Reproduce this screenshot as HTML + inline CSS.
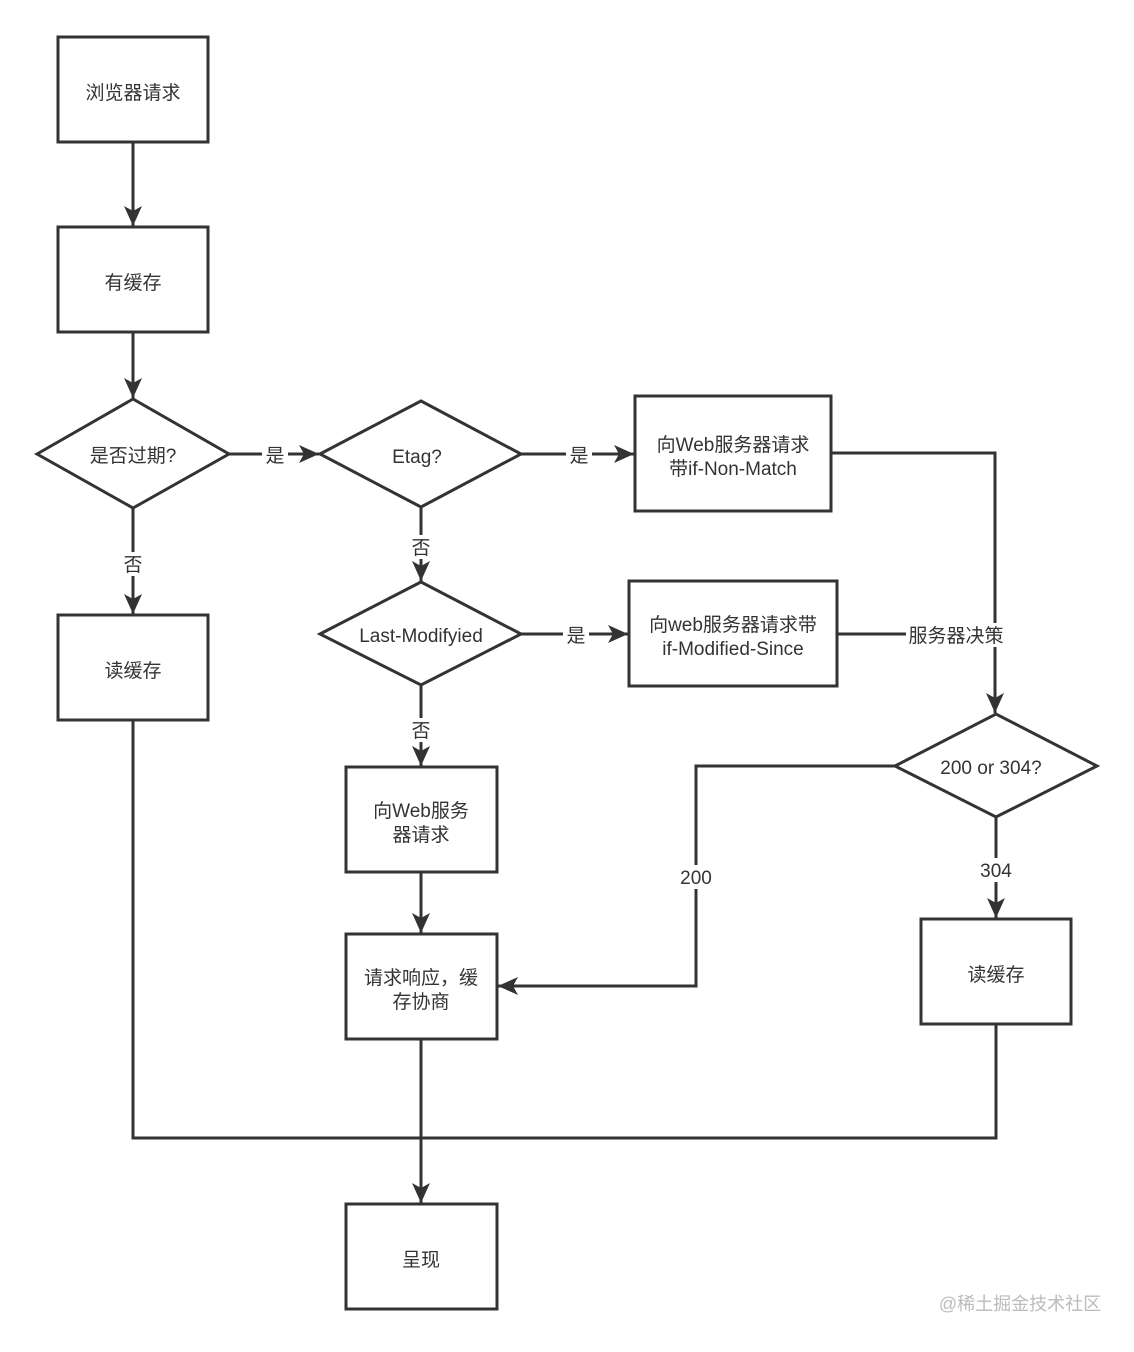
<!DOCTYPE html>
<html><head><meta charset="utf-8"><style>
html,body{margin:0;padding:0;background:#fff;}
svg text{font-family:"Liberation Sans","Noto Sans CJK SC",sans-serif;font-size:19px;fill:#333;}
</style></head><body>
<svg width="1134" height="1347" viewBox="0 0 1134 1347" xmlns="http://www.w3.org/2000/svg">
<defs><marker id="a" markerWidth="10" markerHeight="10" refX="9" refY="5" orient="auto" markerUnits="userSpaceOnUse" viewBox="0 0 10 10"><path d="M0,0 L10,5 L0,10 z" fill="#333"/></marker>
<marker id="b" markerWidth="20" markerHeight="18" refX="20" refY="9" orient="auto" markerUnits="userSpaceOnUse"><path d="M0,0 L20,9 L0,18 L5,9 z" fill="#333"/></marker></defs>
<g fill="#fff" stroke="#333" stroke-width="3">
<rect x="58" y="37" width="150" height="105"/>
<rect x="58" y="227" width="150" height="105"/>
<polygon points="37,454 133,399 229,454 133,508"/>
<polygon points="320,454 421,401 521,454 421,507"/>
<rect x="635" y="396" width="196" height="115"/>
<polygon points="320,634 421,582 521,634 421,685"/>
<rect x="629" y="581" width="208" height="105"/>
<rect x="58" y="615" width="150" height="105"/>
<rect x="346" y="767" width="151" height="105"/>
<rect x="346" y="934" width="151" height="105"/>
<polygon points="895,766 996,714 1097,766 996,817"/>
<rect x="921" y="919" width="150" height="105"/>
<rect x="346" y="1204" width="151" height="105"/>
</g>
<g fill="none" stroke="#333" stroke-width="3">
<path d="M133,142 V226" marker-end="url(#b)"/>
<path d="M133,332 V398" marker-end="url(#b)"/>
<path d="M133,508 V614" marker-end="url(#b)"/>
<path d="M229,454 H319" marker-end="url(#b)"/>
<path d="M521,454 H634" marker-end="url(#b)"/>
<path d="M421,507 V581" marker-end="url(#b)"/>
<path d="M521,634 H628" marker-end="url(#b)"/>
<path d="M421,685 V766" marker-end="url(#b)"/>
<path d="M421,872 V933" marker-end="url(#b)"/>
<path d="M831,453 H995 V713" marker-end="url(#b)"/>
<path d="M837,634 H995"/>
<path d="M895,766 H696 V986 H498" marker-end="url(#b)"/>
<path d="M996,817 V918" marker-end="url(#b)"/>
<path d="M133,720 V1138 H996 V1024"/>
<path d="M421,1039 V1203" marker-end="url(#b)"/>
</g>
<g text-anchor="middle">
<rect x="262" y="443" width="26" height="22" fill="#fff"/><text x="275" y="462">是</text>
<rect x="566" y="443" width="26" height="22" fill="#fff"/><text x="579" y="462">是</text>
<rect x="563" y="623" width="26" height="22" fill="#fff"/><text x="576" y="642">是</text>
<rect x="120" y="552" width="26" height="24" fill="#fff"/><text x="133" y="571">否</text>
<rect x="408" y="535" width="26" height="24" fill="#fff"/><text x="421" y="554">否</text>
<rect x="408" y="718" width="26" height="24" fill="#fff"/><text x="421" y="737">否</text>
<rect x="906" y="623" width="100" height="24" fill="#fff"/><text x="956" y="642">服务器决策</text>
<rect x="676" y="865" width="40" height="24" fill="#fff"/><text x="696" y="884">200</text>
<rect x="976" y="858" width="40" height="24" fill="#fff"/><text x="996" y="877">304</text>
<text x="133" y="99">浏览器请求</text>
<text x="133" y="289">有缓存</text>
<text x="133" y="462">是否过期?</text>
<text x="417" y="463">Etag?</text>
<text x="733" y="451">向Web服务器请求</text>
<text x="733" y="475">带if-Non-Match</text>
<text x="421" y="642">Last-Modifyied</text>
<text x="733" y="631">向web服务器请求带</text>
<text x="733" y="655">if-Modified-Since</text>
<text x="133" y="677">读缓存</text>
<text x="421" y="817">向Web服务</text>
<text x="421" y="841">器请求</text>
<text x="421" y="984">请求响应，缓</text>
<text x="421" y="1008">存协商</text>
<text x="991" y="774">200 or 304?</text>
<text x="996" y="981">读缓存</text>
<text x="421" y="1266">呈现</text>
<text x="1020" y="1310" style="fill:#bbb;font-size:18px">@稀土掘金技术社区</text>
</g>
</svg>
</body></html>
